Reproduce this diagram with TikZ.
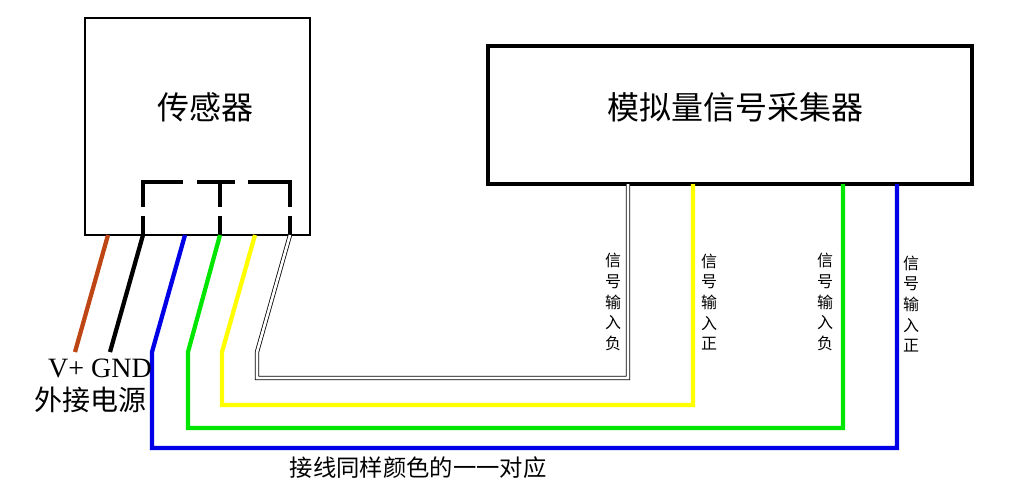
\documentclass[tikz,border=0pt]{standalone}
\usepackage{fontspec}
\newfontfamily\cjk{Noto Sans CJK SC}
\setmainfont{Liberation Serif}
\begin{document}
\begin{tikzpicture}[x=0.75pt,y=-0.75pt,
 wire/.style={line width=3.2pt,line join=miter},
 dsh/.style={line width=3.5pt},
 vlab/.style={font=\cjk\fontsize{12}{15.5}\selectfont,align=center,inner sep=0pt}]
\useasboundingbox (0,0) rectangle (1009,500);
\node[draw,line width=0.8pt,minimum width=168.75pt,minimum height=162.75pt,inner sep=0] (s) at (197.5,126.5) {};
\node[font=\cjk\fontsize{24}{24}\selectfont] (st) at (205,107) {传感器};
\node[draw,line width=3pt,minimum width=363pt,minimum height=103.5pt,inner sep=0] (c) at (730,115) {};
\node[font=\cjk\fontsize{24}{24}\selectfont] (ct) at (735,107) {模拟量信号采集器};
\draw[dsh] (143,207) -- (143,182) -- (183,182);
\draw[dsh] (197,182) -- (235,182);
\draw[dsh] (220,182) -- (220,207);
\draw[dsh] (248,182) -- (290,182) -- (290,207);
\draw[dsh] (143,216) -- (143,235);
\draw[dsh] (220,216) -- (220,235);
\draw[dsh] (290,216) -- (290,235);
\draw[wire,color={rgb,255:red,190;green,70;blue,20}] (108,235) -- (75,352);
\draw[wire,black] (143,235) -- (110,352);
\draw[wire,color={rgb,255:red,0;green,0;blue,230}] (185,235) -- (152,352) -- (152,448) -- (897,448) -- (897,184);
\draw[wire,color={rgb,255:red,0;green,230;blue,0}] (220,235) -- (188,352) -- (188,428) -- (843,428) -- (843,184);
\draw[wire,color={rgb,255:red,255;green,255;blue,0}] (255,235) -- (222,352) -- (222,405) -- (693,405) -- (693,184);
\draw[double=white,double distance=2pt,draw=black,line width=0.6pt] (290,235) -- (257,352) -- (257,378) -- (628,378) -- (628,184);
\node[font=\fontsize{21}{21}\selectfont] (vg) at (100,368) {V+ GND};
\node[font=\cjk\fontsize{21}{21}\selectfont] (pw) at (90,400) {外接电源};
\node[vlab] (l1) at (613,302) {信\\号\\输\\入\\负};
\node[vlab] (l2) at (709,302) {信\\号\\输\\入\\正};
\node[vlab] (l3) at (825,302) {信\\号\\输\\入\\负};
\node[vlab] (l4) at (911,304) {信\\号\\输\\入\\正};
\node[font=\cjk\fontsize{17.5}{18}\selectfont] (bt) at (418,468) {接线同样颜色的一一对应};
\end{tikzpicture}
\end{document}
